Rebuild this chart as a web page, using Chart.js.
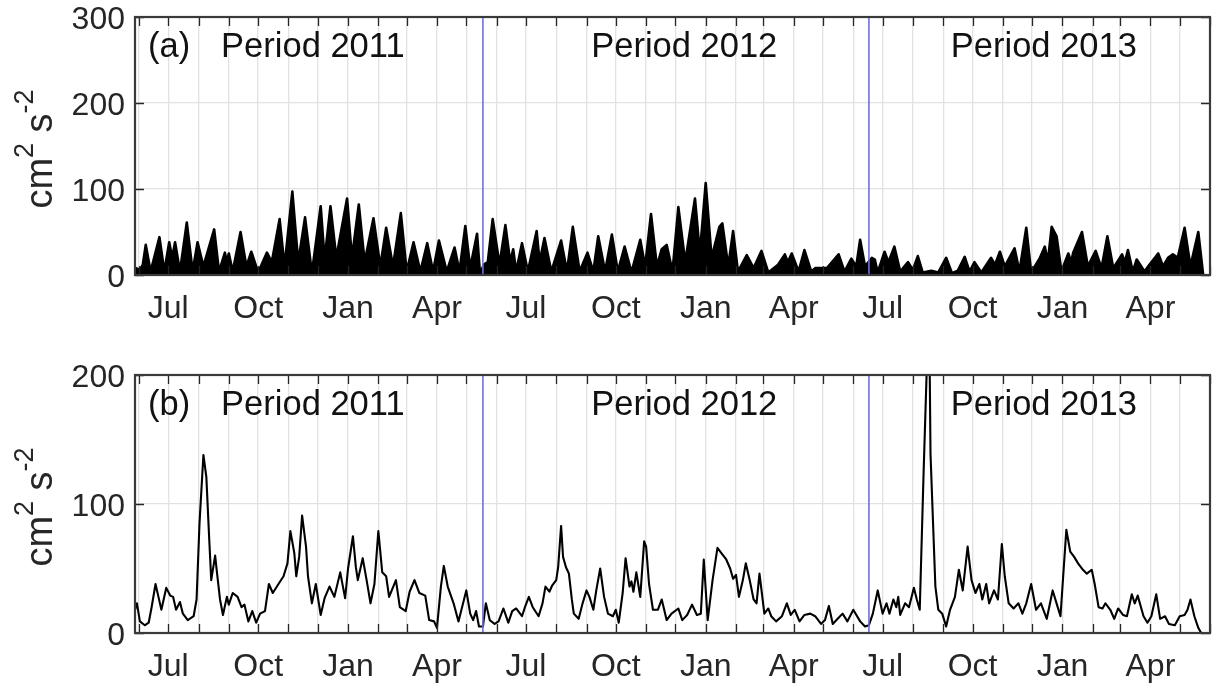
<!DOCTYPE html>
<html><head><meta charset="utf-8">
<script src="https://cdn.jsdelivr.net/npm/chart.js@4/dist/chart.umd.min.js"></script>
<style>
html,body{margin:0;padding:0;background:#fff;}
#wrap{position:relative;width:1224px;height:691px;overflow:hidden;background:#fff;}
canvas{position:absolute;left:0;}
</style></head><body>
<div id="wrap">
<canvas id="ca" width="1224" height="330" style="top:0;width:1224px;height:330px"></canvas>
<canvas id="cb" width="1224" height="351" style="top:340px;width:1224px;height:351px"></canvas>
</div>
<script>
// x values are days since BASE (2011-06-01)
const BASE_UTC = Date.UTC(2011, 5, 1);
const xRange = [-4, 1096];
const periodBoundaryDays = [352, 747];
const periodLabels = ['Period 2011', 'Period 2012', 'Period 2013'];
const periodLabelDays = [178, 558, 926];
const monthTickNames = {0: 'Jan', 3: 'Apr', 6: 'Jul', 9: 'Oct'};
const panelLetters = ['(a)', '(b)'];
const yMaxA = 300, yMaxB = 200, yStep = 100;

// Panel (a)
const aDays = [-3,1,4,7,12,21,26,31,34,37,42,49,55,60,66,77,82,88,90,92,96,104,110,115,122,131,136,144,149,157,163,170,177,186,190,196,202,213,218,225,231,240,247,253,260,268,274,281,288,295,301,307,315,323,328,334,339,346,349,353,357,362,369,375,380,383,386,392,398,407,410,415,422,432,438,444,451,459,465,470,477,484,490,497,504,513,518,524,530,535,540,546,552,559,569,574,580,586,594,597,603,608,613,622,629,637,644,654,661,664,668,675,681,688,692,704,716,722,729,734,738,743,750,753,756,763,767,773,779,787,792,797,802,811,818,826,832,838,845,850,855,862,872,876,881,886,896,901,908,913,922,927,930,934,939,944,951,954,956,965,971,979,985,991,997,1006,1009,1012,1017,1021,1029,1034,1043,1048,1053,1058,1063,1070,1076,1084,1089];
const aVals = [8,6,12,35,4,44,4,38,20,38,4,61,4,38,10,53,4,26,15,25,4,50,10,27,3,26,15,65,10,97,15,67,2,80,18,80,20,89,20,82,15,66,10,55,10,72,4,38,4,37,4,40,4,32,4,57,8,48,2,12,15,65,12,58,15,30,4,37,4,51,15,43,4,40,4,56,4,26,4,45,4,47,4,33,3,41,10,71,10,30,35,4,79,15,89,25,107,20,56,60,10,51,4,23,8,28,3,12,24,15,25,4,29,4,8,8,24,4,19,10,41,10,20,18,3,27,15,33,4,15,6,22,3,5,3,20,2,5,21,4,15,3,20,12,27,10,31,4,55,3,20,33,15,56,45,4,25,15,26,50,10,28,8,45,8,24,15,29,4,18,4,12,25,10,20,24,20,55,10,50,0];

// Panel (b)
const bDays = [-4,-2,1,6,10,13,17,20,23,28,32,35,38,42,45,50,56,59,62,66,69,72,74,78,80,83,86,90,92,96,101,105,108,112,116,120,124,129,133,137,142,148,152,155,159,161,164,167,171,173,177,181,186,190,195,200,206,211,214,219,222,224,229,233,237,241,245,249,253,256,263,267,273,277,282,287,293,297,302,305,309,312,316,322,327,335,339,342,345,348,352,355,359,364,368,373,378,382,386,392,395,399,403,409,413,416,420,423,427,429,432,434,437,440,443,445,450,454,458,461,465,468,472,476,480,485,488,491,495,498,502,504,506,509,513,517,519,522,526,531,535,540,545,552,556,561,566,571,575,578,582,587,592,596,601,605,608,611,614,618,621,625,629,632,635,640,644,647,652,658,663,667,671,676,681,687,692,698,702,706,710,715,720,725,731,738,743,747,751,756,761,765,768,772,775,777,779,784,788,793,796,799,803,807,809,810,815,818,822,826,830,835,839,843,848,852,856,860,863,867,870,875,879,883,886,890,895,900,904,908,913,918,923,929,935,939,943,949,953,957,961,966,970,975,978,982,986,989,994,998,1002,1007,1011,1016,1019,1022,1028,1032,1036,1041,1045,1050,1054,1060,1065,1070,1073,1076,1080,1084,1087];
const bVals = [18,23,9,6,8,20,38,28,18,35,29,28,18,24,15,10,13,26,85,138,121,72,41,60,46,26,14,28,22,31,28,20,22,9,17,8,15,17,38,31,37,44,54,79,62,44,59,91,67,44,23,38,14,27,36,28,47,27,50,75,51,41,58,41,23,38,79,47,44,28,41,20,17,32,41,31,29,10,9,4,36,52,36,23,9,33,15,10,17,5,5,23,10,7,9,19,8,17,19,13,20,28,20,13,23,36,32,37,41,51,83,59,51,46,26,15,11,23,33,28,18,33,50,28,15,13,18,8,31,58,36,40,32,47,28,71,67,38,18,18,26,10,15,19,10,14,22,14,15,57,10,41,66,62,57,50,42,45,28,41,54,41,26,23,46,15,19,13,9,13,23,14,18,9,14,15,13,7,10,21,7,11,15,9,18,9,5,6,15,33,15,23,15,26,20,28,14,23,20,35,26,18,126,225,220,139,36,18,15,5,18,28,49,33,67,41,31,38,26,38,23,33,26,69,44,23,19,23,15,23,38,18,23,11,33,23,13,80,63,59,54,49,46,49,38,20,19,23,18,11,19,14,13,30,23,29,13,8,13,30,11,13,7,6,13,14,18,26,13,4,0];

// month ticks (first of each month)
const monthTicks = [];
for (let m = 0; m <= 36; m++) {
  monthTicks.push((Date.UTC(2011, 5 + m, 1) - BASE_UTC) / 864e5);
}

const FONT = 'Liberation Sans, Arial, Helvetica, sans-serif';
const TXT = '#262626';

function toPts(days, vals) { return days.map((d, i) => ({x: d, y: vals[i]})); }

const decor = {
  id: 'decor',
  afterDatasetsDraw(chart, args, opts) {
    const {ctx, chartArea: ca, scales: {x, y}} = chart;
    ctx.save();
    // inward tick marks
    ctx.strokeStyle = '#262626';
    ctx.lineWidth = 1.3;
    const L = 9;
    ctx.beginPath();
    x.ticks.forEach(t => {
      const px = Math.round(x.getPixelForValue(t.value)) + 0.5;
      ctx.moveTo(px, ca.bottom); ctx.lineTo(px, ca.bottom - L);
      ctx.moveTo(px, ca.top); ctx.lineTo(px, ca.top + L);
    });
    y.ticks.forEach(t => {
      const py = Math.round(y.getPixelForValue(t.value)) + 0.5;
      ctx.moveTo(ca.left, py); ctx.lineTo(ca.left + L, py);
      ctx.moveTo(ca.right, py); ctx.lineTo(ca.right - L, py);
    });
    ctx.stroke();
    // box
    ctx.lineWidth = 2.2;
    ctx.strokeStyle = '#3a3a3a';
    ctx.strokeRect(ca.left, ca.top, ca.right - ca.left, ca.bottom - ca.top);
    // labels
    ctx.fillStyle = '#111';
    ctx.font = '34.5px ' + FONT;
    ctx.textBaseline = 'alphabetic';
    ctx.textAlign = 'center';
    periodLabels.forEach((s, i) => {
      ctx.fillText(s, x.getPixelForValue(periodLabelDays[i]), ca.top + 40);
    });
    ctx.textAlign = 'left';
    ctx.fillText(opts.letter, ca.left + 13, ca.top + 40);
    // y axis title: cm^2 s^-2
    const main = 38, sup = 27, raise = 19;
    const cy = (ca.top + ca.bottom) / 2 + 3;
    ctx.translate(52, cy);
    ctx.rotate(-Math.PI / 2);
    ctx.fillStyle = TXT;
    const parts = [['cm', main, 0], ['2', sup, raise], [' s', main, 0], ['-2', sup, raise]];
    let total = 0;
    parts.forEach(p => { ctx.font = p[1] + 'px ' + FONT; total += ctx.measureText(p[0]).width; });
    let cx = -total / 2;
    parts.forEach(p => {
      ctx.font = p[1] + 'px ' + FONT;
      ctx.fillText(p[0], cx, -p[2]);
      cx += ctx.measureText(p[0]).width;
    });
    ctx.restore();
  }
};

function makeChart(id, days, vals, yMax, lineW, fillArea, plotTop, plotBottom, canvasH, letter) {
  const datasets = periodBoundaryDays.map(d => ({
    data: [{x: d, y: 0}, {x: d, y: yMax}],
    borderColor: 'rgb(112,112,222)', borderWidth: 1.6, pointRadius: 0, tension: 0
  }));
  datasets.push({
    data: toPts(days, vals),
    borderColor: '#000', borderWidth: lineW, pointRadius: 0, tension: 0,
    fill: fillArea ? 'origin' : false, backgroundColor: '#000',
    borderJoinStyle: 'round', borderCapStyle: 'round'
  });
  return new Chart(document.getElementById(id), {
    type: 'line',
    data: {datasets},
    plugins: [decor],
    options: {
      responsive: false, animation: false, devicePixelRatio: 1,
      layout: {padding: {top: plotTop, right: 14, left: 0, bottom: 0}},
      plugins: {legend: {display: false}, tooltip: {enabled: false}, decor: {letter}},
      scales: {
        x: {
          type: 'linear', min: xRange[0], max: xRange[1],
          afterBuildTicks: s => { s.ticks = monthTicks.map(v => ({value: v})); },
          afterFit: s => { s.height = canvasH - plotBottom; s.paddingLeft = 0; s.paddingRight = 0; },
          grid: {color: '#e2e2e2', lineWidth: 1.3, drawTicks: false},
          border: {display: false},
          ticks: {
            autoSkip: false, maxRotation: 0, padding: 15, color: TXT,
            font: {family: FONT, size: 32},
            callback: v => {
              const d = new Date(BASE_UTC + v * 864e5);
              return monthTickNames[d.getUTCMonth()] || '';
            }
          }
        },
        y: {
          type: 'linear', min: 0, max: yMax,
          afterFit: s => { s.width = 135; s.paddingTop = 0; s.paddingBottom = 0; },
          grid: {color: '#e2e2e2', lineWidth: 1.3, drawTicks: false},
          border: {display: false},
          ticks: {stepSize: yStep, padding: 10, color: TXT, labelOffset: 3,
                  font: {family: FONT, size: 32, lineHeight: 1}}
        }
      }
    }
  });
}

makeChart('ca', aDays, aVals, yMaxA, 2.6, true, 17, 275, 330, panelLetters[0]);
makeChart('cb', bDays, bVals, yMaxB, 2.1, false, 35, 293, 351, panelLetters[1]);
</script>
</body></html>
